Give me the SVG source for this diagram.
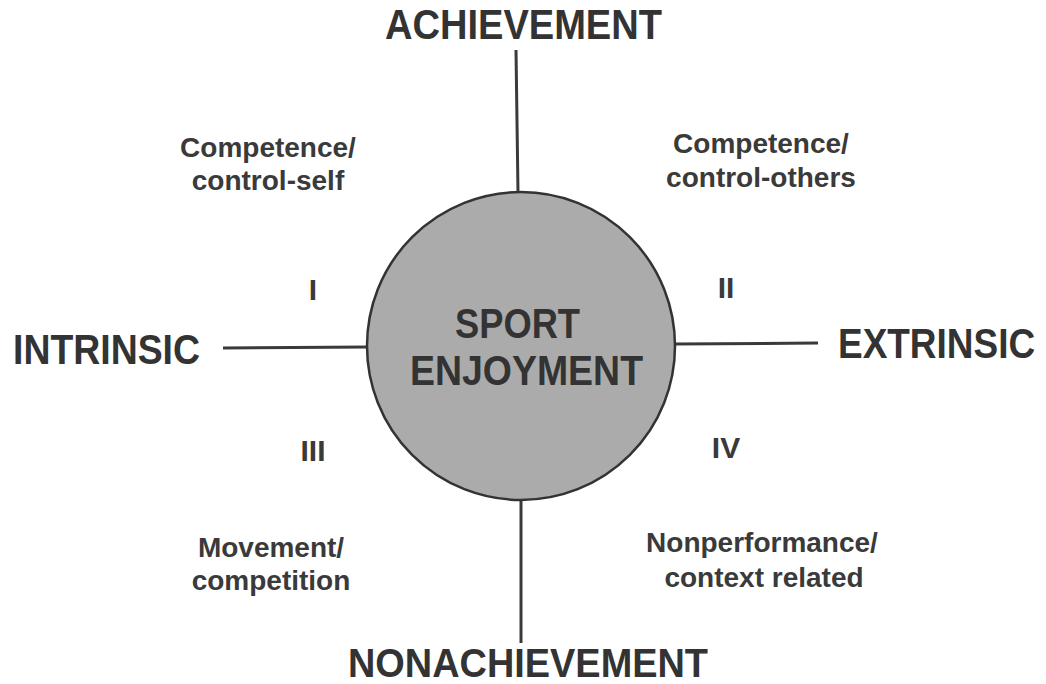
<svg xmlns="http://www.w3.org/2000/svg" width="1046" height="684" viewBox="0 0 1046 684">
<style>
.big{font-family:"Liberation Sans",Arial,sans-serif;font-weight:bold;font-size:42px;fill:#333;}
.lab{font-family:"Liberation Sans",Arial,sans-serif;font-weight:bold;font-size:28px;fill:#3a3a3a;text-anchor:middle;}
.num{font-family:"Liberation Sans",Arial,sans-serif;font-weight:bold;font-size:30px;fill:#3a3a3a;text-anchor:middle;}
.axis{stroke:#3a3a3a;stroke-width:3;fill:none;}
</style>
<rect width="1046" height="684" fill="#ffffff"/>
<g id="connectors">
<line class="axis" x1="516" y1="50" x2="518" y2="193"/>
<line class="axis" x1="521" y1="499" x2="521" y2="643"/>
<line class="axis" x1="223" y1="348" x2="368" y2="347"/>
<line class="axis" x1="675" y1="344" x2="818" y2="343"/>
</g>
<g id="center">
<circle cx="521" cy="346" r="154" fill="#ababab" stroke="#333" stroke-width="2.5"/>
<text class="big" x="455" y="338" textLength="125" lengthAdjust="spacingAndGlyphs">SPORT</text>
<text class="big" x="410" y="385" textLength="233" lengthAdjust="spacingAndGlyphs">ENJOYMENT</text>
</g>
<g id="achievement">
<text class="big" x="385" y="39" textLength="277" lengthAdjust="spacingAndGlyphs">ACHIEVEMENT</text>
</g>
<g id="nonachievement">
<text class="big" x="348" y="677" style="font-size:40px" textLength="360" lengthAdjust="spacingAndGlyphs">NONACHIEVEMENT</text>
</g>
<g id="intrinsic">
<text class="big" x="13" y="364" textLength="187" lengthAdjust="spacingAndGlyphs">INTRINSIC</text>
</g>
<g id="extrinsic">
<text class="big" transform="translate(838,358) scale(0.88,1)" x="0" y="0">EXTRINSIC</text>
</g>
<g id="q1">
<text class="lab" x="268" y="157">Competence/</text>
<text class="lab" x="268" y="190">control-self</text>
<text class="num" x="313" y="300">I</text>
</g>
<g id="q2">
<text class="lab" x="761" y="153">Competence/</text>
<text class="lab" x="761" y="187">control-others</text>
<text class="num" x="726" y="298">II</text>
</g>
<g id="q3">
<text class="num" x="313" y="461">III</text>
<text class="lab" x="271" y="557">Movement/</text>
<text class="lab" x="271" y="590">competition</text>
</g>
<g id="q4">
<text class="num" x="726" y="458">IV</text>
<text class="lab" x="762" y="552">Nonperformance/</text>
<text class="lab" x="764" y="587">context related</text>
</g>
</svg>
